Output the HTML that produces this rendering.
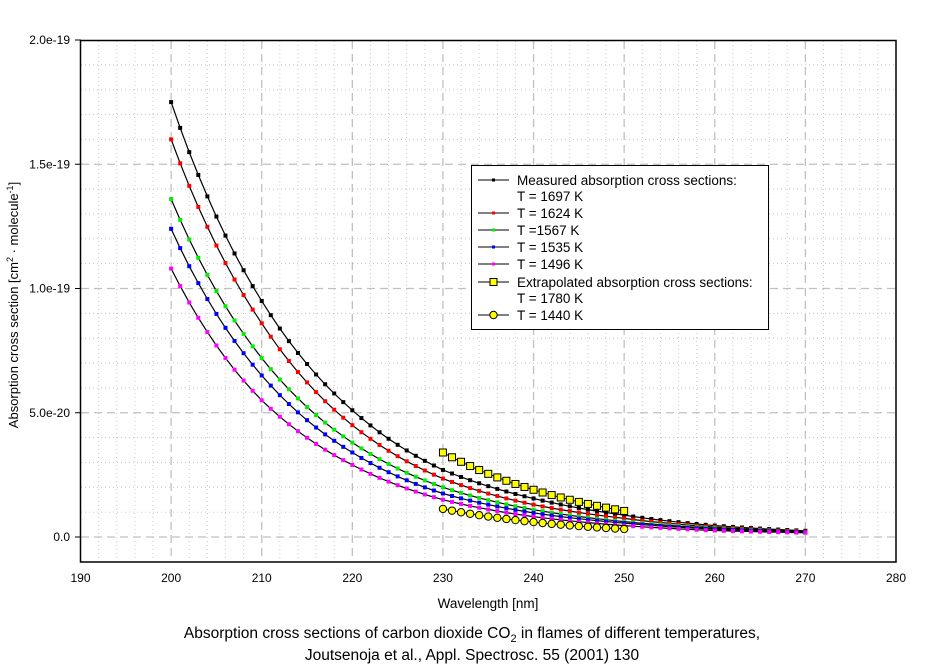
<!DOCTYPE html>
<html><head><meta charset="utf-8"><style>
body{margin:0;background:#fff;}
svg{display:block;font-family:"Liberation Sans",Arial,sans-serif;}
</style></head><body>
<svg id="s" width="936" height="668" xmlns="http://www.w3.org/2000/svg">
<rect width="936" height="668" fill="#fff"/>
<g id="grid"></g>
<g id="data"></g>
<rect x="80.5" y="40.5" width="815.5" height="521.5" fill="none" stroke="#000" stroke-width="1.5"/>
<g id="ticks" font-size="12"></g>
<text x="488" y="608" font-size="13.5" text-anchor="middle">Wavelength [nm]</text>
<text transform="translate(18,305) rotate(-90)" font-size="13" text-anchor="middle">Absorption cross section [cm<tspan font-size="9" dy="-5">2</tspan><tspan dy="5"> · molecule</tspan><tspan font-size="9" dy="-5">-1</tspan><tspan dy="5">]</tspan></text>
<text x="472" y="638" font-size="15.5" text-anchor="middle">Absorption cross sections of carbon dioxide CO<tspan font-size="11" dy="4">2</tspan><tspan dy="-4"> in flames of different temperatures,</tspan></text>
<text x="472" y="660" font-size="15.5" text-anchor="middle">Joutsenoja et al., Appl. Spectrosc. 55 (2001) 130</text>
<g id="legend" font-size="13.5">
<rect x="471.5" y="165.5" width="297" height="164" fill="#fff" stroke="#000"/>
</g>
</svg>
<script>
const NS="http://www.w3.org/2000/svg";
function el(p,t,a,txt){const e=document.createElementNS(NS,t);for(const k in a)e.setAttribute(k,a[k]);if(txt!==undefined)e.textContent=txt;document.getElementById(p).appendChild(e);return e;}
const X=w=>80.5+(w-190)*9.061, Y=v=>537-v*248.5;
for(let w=192;w<280;w+=2){const x=X(w);const major=(w%10===0);
 el('grid','line',{x1:x,x2:x,y1:41,y2:561,stroke:major?'#c0c0c0':'#c8c8c8','stroke-width':major?1.3:1,'stroke-dasharray':major?'8,5':'1,3'});}
for(let i=-1;i<20;i++){const y=Y(i*0.1);if(y<41||y>561)continue;const major=(i%5===0);
 el('grid','line',{x1:81,x2:895,y1:y,y2:y,stroke:major?'#c0c0c0':'#c8c8c8','stroke-width':major?1.3:1,'stroke-dasharray':major?'8,5':'1,3'});}
for(let w=190;w<=280;w+=10){el('ticks','text',{x:X(w),y:582,'text-anchor':'middle'},String(w));}
const yl=[[0,'0.0'],[0.5,'5.0e-20'],[1,'1.0e-19'],[1.5,'1.5e-19'],[2,'2.0e-19']];
for(const [v,t] of yl){el('ticks','text',{x:70,y:Y(v)+4,'text-anchor':'end'},t);el('ticks','line',{x1:75,x2:81,y1:Y(v),y2:Y(v),stroke:'#000'});}
function interp(pts,w){const ks=Object.keys(pts).map(Number).sort((a,b)=>a-b);
 for(let i=0;i<ks.length-1;i++){if(w>=ks[i]&&w<=ks[i+1]){const t=(w-ks[i])/(ks[i+1]-ks[i]);return Math.exp(Math.log(pts[ks[i]])*(1-t)+Math.log(pts[ks[i+1]])*t);}}return pts[ks[ks.length-1]];}
const series=[
 ['#000',{200:1.75,210:0.95,220:0.51,230:0.27,240:0.155,250:0.088,260:0.046,270:0.025}],
 ['#ff0000',{200:1.60,210:0.86,220:0.45,230:0.235,240:0.13,250:0.075,260:0.04,270:0.022}],
 ['#00ee00',{200:1.36,210:0.72,220:0.38,230:0.20,240:0.11,250:0.062,260:0.035,270:0.02}],
 ['#0000ff',{200:1.24,210:0.65,220:0.34,230:0.175,240:0.097,250:0.056,260:0.031,270:0.019}],
 ['#ff00ff',{200:1.08,210:0.55,220:0.29,230:0.15,240:0.082,250:0.046,260:0.026,270:0.017}]];
for(const [c,p] of series){let d='';const pts=[];
 for(let w=200;w<=270;w++){const x=X(w),y=Y(interp(p,w));pts.push([x,y]);d+=(d?'L':'M')+x.toFixed(1)+','+y.toFixed(1);}
 el('data','path',{d:d,fill:'none',stroke:'#000','stroke-width':1.2});
 for(const [x,y] of pts)el('data','rect',{x:x-2,y:y-2,width:4,height:4,fill:c});}
const sq={230:0.34,240:0.19,250:0.105}, ci={230:0.113,240:0.06,250:0.032};
let d1='',d2='';
for(let w=230;w<=250;w++){d1+=(d1?'L':'M')+X(w)+','+Y(interp(sq,w));d2+=(d2?'L':'M')+X(w)+','+Y(interp(ci,w));}
el('data','path',{d:d1,fill:'none',stroke:'#000'});el('data','path',{d:d2,fill:'none',stroke:'#000'});
for(let w=230;w<=250;w++){el('data','rect',{x:X(w)-3.5,y:Y(interp(sq,w))-3.5,width:7,height:7,fill:'#ffff00',stroke:'#000'});
 el('data','circle',{cx:X(w),cy:Y(interp(ci,w)),r:3.7,fill:'#ffff00',stroke:'#000'});}
const L=[['Measured absorption cross sections:','#000','d',180],['T = 1697 K',null,null,196],['T = 1624 K','#ff0000','d',213],['T =1567 K','#00ee00','d',230],['T = 1535 K','#0000ff','d',247],['T = 1496 K','#ff00ff','d',264],['Extrapolated absorption cross sections:','#ffff00','s',282],['T = 1780 K',null,null,298],['T = 1440 K','#ffff00','c',315]];
for(const [t,c,m,y] of L){el('legend','text',{x:517,y:y+5},t);
 if(m){el('legend','line',{x1:478,x2:509,y1:y,y2:y,stroke:'#000'});
  if(m==='d')el('legend','rect',{x:492,y:y-1.5,width:3,height:3,fill:c});
  if(m==='s')el('legend','rect',{x:490,y:y-3.5,width:7,height:7,fill:c,stroke:'#000'});
  if(m==='c')el('legend','circle',{cx:493.5,cy:y,r:3.7,fill:c,stroke:'#000'});}}
</script>
</body></html>
